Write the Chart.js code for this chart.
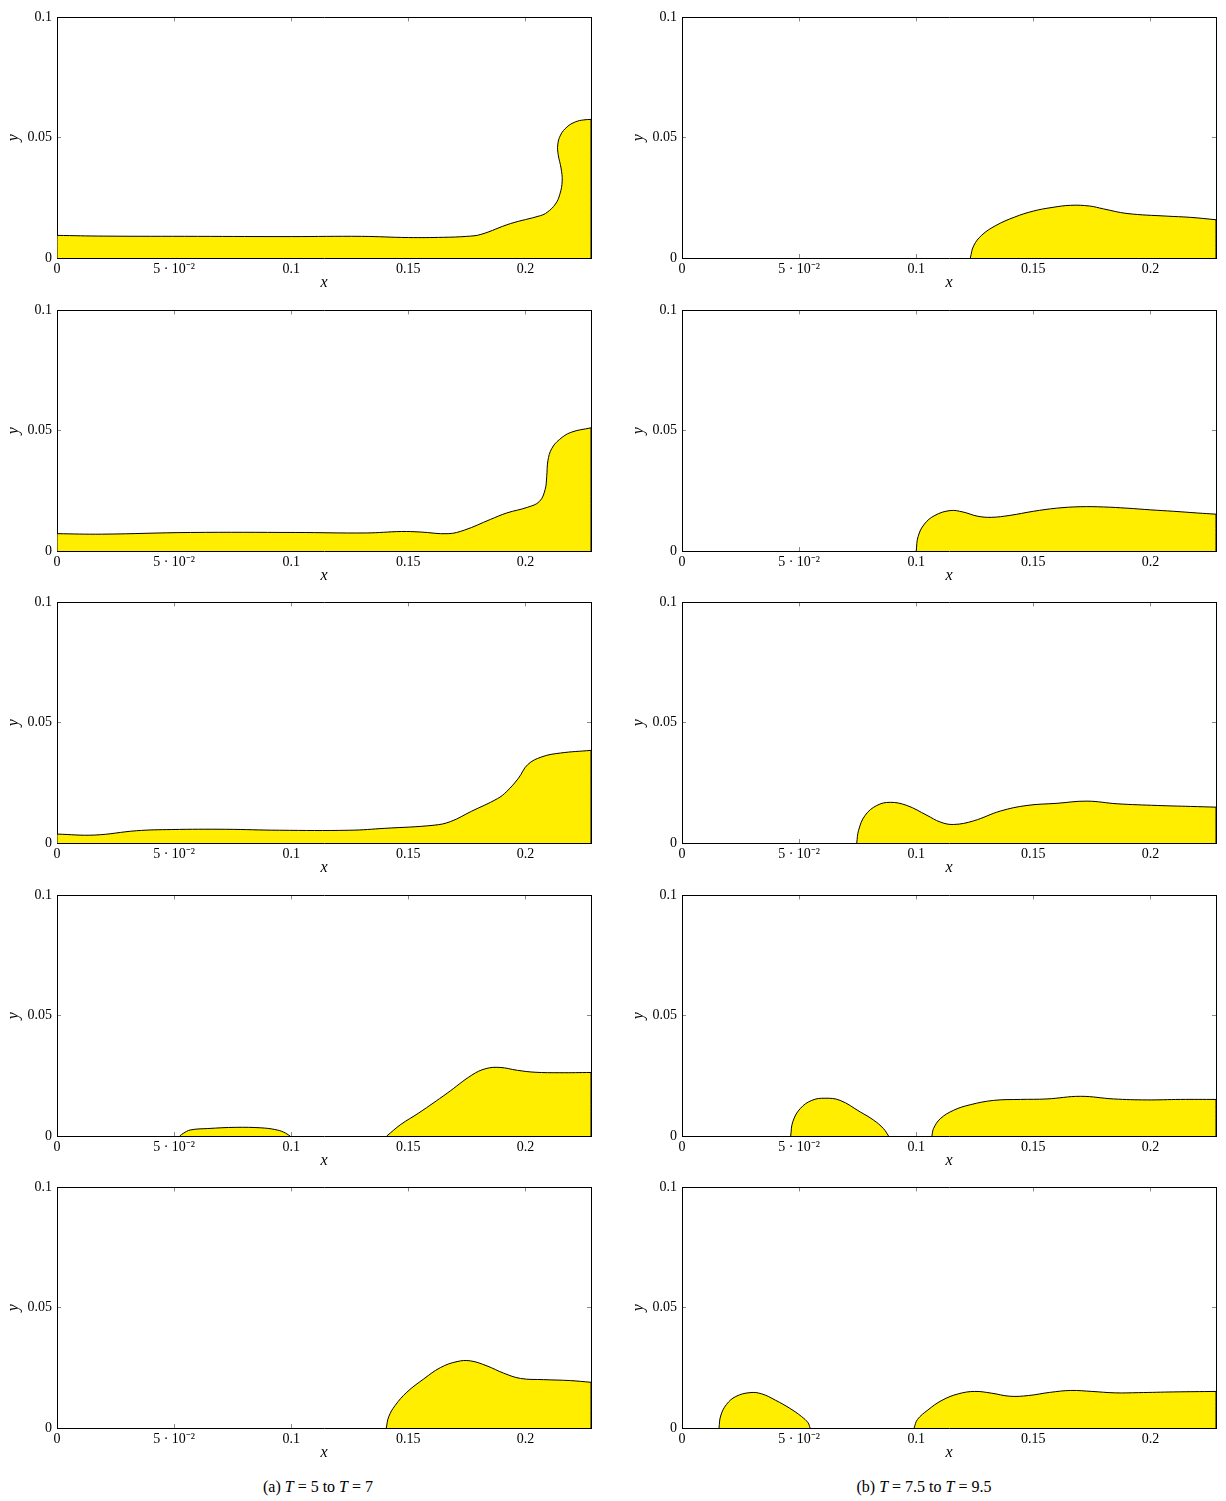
<!DOCTYPE html>
<html>
<head>
<meta charset="utf-8">
<script src="https://cdn.jsdelivr.net/npm/chart.js"></script>
<style>
    body { margin: 0; background: #fff; }
    #wrap { position: relative; width: 1226px; height: 1501px; font-family: 'Liberation Serif', serif; }
    canvas { position: absolute; }
    .cap { position: absolute; top: 1478px; font-size: 16px; color: #000; white-space: nowrap; transform: translateX(-50%); }
</style>
</head>
<body>
<div id="wrap">
    <div class="cap" style="left:318px">(a) <i>T</i> = 5 to <i>T</i> = 7</div>
    <div class="cap" style="left:924px">(b) <i>T</i> = 7.5 to <i>T</i> = 9.5</div>
</div>
<script>
const xTicks = [0, 0.05, 0.1, 0.15, 0.2];
const xTickLabels = ['0', '5 · 10⁻²', '0.1', '0.15', '0.2'];
const yTicks = [0, 0.05, 0.1];
const yTickLabels = ['0', '0.05', '0.1'];
const xMax = 0.228;
const yMax = 0.1;

// (a) T = 5 .. 7
const a1X = [0, 0, 0.02, 0.06, 0.10, 0.13, 0.15, 0.165, 0.175, 0.181, 0.1936, 0.2064, 0.2093, 0.2128, 0.2147, 0.2157, 0.2152, 0.214, 0.2138, 0.215, 0.2178, 0.2214, 0.2249, 0.228, 0.228];
const a1Y = [0, 0.0094, 0.0091, 0.009, 0.0089, 0.009, 0.0085, 0.0086, 0.009, 0.0098, 0.0143, 0.0176, 0.019, 0.0224, 0.0265, 0.032, 0.0374, 0.0429, 0.047, 0.0511, 0.0545, 0.0566, 0.0574, 0.0576, 0];

const a2X = [0, 0, 0.019, 0.057, 0.102, 0.132, 0.147, 0.155, 0.167, 0.174, 0.185, 0.192, 0.201, 0.206, 0.2084, 0.2091, 0.2096, 0.2112, 0.2145, 0.2194, 0.228, 0.228];
const a2Y = [0, 0.0072, 0.0070, 0.0077, 0.0077, 0.0075, 0.0081, 0.0079, 0.0072, 0.0087, 0.0131, 0.0158, 0.0182, 0.0206, 0.0255, 0.031, 0.0375, 0.0425, 0.0463, 0.0493, 0.0512, 0];

const a3X = [0, 0, 0.016, 0.034, 0.049, 0.072, 0.095, 0.125, 0.14, 0.161, 0.168, 0.177, 0.188, 0.192, 0.197, 0.201, 0.207, 0.215, 0.228, 0.228];
const a3Y = [0, 0.0037, 0.0033, 0.0051, 0.0056, 0.0057, 0.0053, 0.0053, 0.0061, 0.0074, 0.0089, 0.0132, 0.0184, 0.0214, 0.0269, 0.0326, 0.0358, 0.0374, 0.0385, 0];

const a4X1 = [0.0524, 0.0539, 0.0569, 0.0644, 0.0764, 0.087, 0.093, 0.0968, 0.0995];
const a4Y1 = [0, 0.0011, 0.0025, 0.0031, 0.0036, 0.0034, 0.0027, 0.0016, 0];
const a4X2 = [0.1408, 0.1468, 0.1545, 0.1666, 0.1771, 0.1831, 0.1891, 0.1966, 0.2041, 0.2147, 0.228, 0.228];
const a4Y2 = [0, 0.0048, 0.0096, 0.0178, 0.0253, 0.028, 0.0285, 0.0273, 0.0265, 0.0263, 0.0264, 0];

const a5X = [0.1406, 0.1416, 0.1444, 0.1494, 0.1566, 0.1637, 0.1708, 0.1765, 0.1836, 0.1907, 0.1979, 0.2078, 0.2192, 0.228, 0.228];
const a5Y = [0, 0.0046, 0.0094, 0.0149, 0.0204, 0.0251, 0.0276, 0.0279, 0.0258, 0.0228, 0.0206, 0.0201, 0.0197, 0.019, 0];

// (b) T = 7.5 .. 9.5
const b1X = [0.1231, 0.1245, 0.128, 0.134, 0.142, 0.15, 0.158, 0.166, 0.174, 0.18, 0.19, 0.207, 0.217, 0.228, 0.228];
const b1Y = [0, 0.005, 0.0095, 0.0135, 0.017, 0.0195, 0.021, 0.0219, 0.0216, 0.0204, 0.0185, 0.0174, 0.0169, 0.0159, 0];

const b2X = [0.1, 0.1008, 0.1035, 0.108, 0.1145, 0.12, 0.126, 0.132, 0.14, 0.15, 0.16, 0.17, 0.18, 0.19, 0.2, 0.21, 0.22, 0.228, 0.228];
const b2Y = [0, 0.006, 0.0112, 0.0148, 0.0168, 0.0162, 0.0145, 0.014, 0.0148, 0.0165, 0.0178, 0.0184, 0.0183, 0.0178, 0.0171, 0.0165, 0.0158, 0.0153, 0];

const b3X = [0.0746, 0.0754, 0.0782, 0.0832, 0.0889, 0.096, 0.1046, 0.1103, 0.116, 0.1245, 0.136, 0.1473, 0.1601, 0.1729, 0.1858, 0.2029, 0.2171, 0.228, 0.228];
const b3Y = [0, 0.0053, 0.0115, 0.0156, 0.0169, 0.0156, 0.0115, 0.0087, 0.0077, 0.0092, 0.0133, 0.0156, 0.0165, 0.0174, 0.0163, 0.0156, 0.0152, 0.0149, 0];

const b4X1 = [0.0464, 0.0473, 0.0504, 0.0554, 0.0611, 0.0675, 0.0761, 0.0818, 0.086, 0.0882];
const b4Y1 = [0, 0.0059, 0.0113, 0.0148, 0.0157, 0.0148, 0.01, 0.0066, 0.0031, 0];
const b4X2 = [0.1067, 0.1074, 0.1103, 0.116, 0.1231, 0.1331, 0.1445, 0.1558, 0.1701, 0.1843, 0.1986, 0.2128, 0.228, 0.228];
const b4Y2 = [0, 0.0031, 0.0072, 0.0107, 0.013, 0.0148, 0.0152, 0.0154, 0.0165, 0.0154, 0.015, 0.0152, 0.0152, 0];

const b5X1 = [0.0158, 0.0165, 0.019, 0.023, 0.029, 0.034, 0.04, 0.046, 0.051, 0.0538, 0.0547];
const b5Y1 = [0, 0.005, 0.0098, 0.0131, 0.0147, 0.0142, 0.0115, 0.0082, 0.0048, 0.0022, 0];
const b5X2 = [0.0991, 0.1005, 0.105, 0.111, 0.118, 0.125, 0.132, 0.14, 0.148, 0.157, 0.166, 0.175, 0.185, 0.195, 0.21, 0.228, 0.228];
const b5Y2 = [0, 0.0035, 0.0075, 0.0115, 0.0142, 0.0152, 0.0145, 0.0132, 0.0135, 0.0148, 0.0156, 0.0152, 0.0146, 0.0147, 0.015, 0.0152, 0];

const colLeft = [0, 625];
const rowTop = [0, 293, 585, 878, 1170];

const panels = [
    { col: 0, row: 0, blobs: [[a1X, a1Y]] },
    { col: 0, row: 1, blobs: [[a2X, a2Y]] },
    { col: 0, row: 2, blobs: [[a3X, a3Y]] },
    { col: 0, row: 3, blobs: [[a4X1, a4Y1], [a4X2, a4Y2]] },
    { col: 0, row: 4, blobs: [[a5X, a5Y]] },
    { col: 1, row: 0, blobs: [[b1X, b1Y]] },
    { col: 1, row: 1, blobs: [[b2X, b2Y]] },
    { col: 1, row: 2, blobs: [[b3X, b3Y]] },
    { col: 1, row: 3, blobs: [[b4X1, b4Y1], [b4X2, b4Y2]] },
    { col: 1, row: 4, blobs: [[b5X1, b5Y1], [b5X2, b5Y2]] }
];

const tickFont = { family: 'Liberation Serif', size: 14 };
const titleFont = { family: 'Liberation Serif', size: 16, style: 'italic' };

function setTicks(values) {
    return scale => { scale.ticks = values.map(v => ({ value: v })); };
}

// corner points on the plot edges are repeated so the spline keeps a sharp corner
function toPoints(xs, ys) {
    const pts = [];
    xs.forEach((x, i) => {
        pts.push({ x: x, y: ys[i] });
        const edge = ys[i] !== 0 && (xs[i - 1] === x || xs[i + 1] === x);
        if (edge) pts.push({ x: x, y: ys[i] });
    });
    return pts;
}

function makeAxis(pos, max, ticks, labels, showLabels) {
    const horiz = pos === 'top' || pos === 'bottom';
    return {
        type: 'linear',
        position: pos,
        min: 0,
        max: max,
        afterBuildTicks: setTicks(ticks),
        afterFit: scale => {
            if (horiz) scale.height = showLabels ? 34 : 0;
            else scale.width = showLabels ? 57 : 0;
        },
        border: { display: true, color: '#000', width: 1 },
        grid: { drawOnChartArea: false, drawTicks: true, tickLength: -4, color: '#8a8a8a', lineWidth: 1 },
        ticks: {
            display: showLabels,
            padding: 9,
            color: '#000',
            font: tickFont,
            callback: v => labels[ticks.indexOf(v)] ?? ''
        }
    };
}

const wrap = document.getElementById('wrap');

panels.forEach(p => {
    const canvas = document.createElement('canvas');
    canvas.width = 600;
    canvas.height = 292;
    canvas.style.left = colLeft[p.col] + 'px';
    canvas.style.top = rowTop[p.row] + 'px';
    wrap.appendChild(canvas);

    const datasets = p.blobs.map(([xs, ys]) => ({
        data: toPoints(xs, ys),
        showLine: true,
        fill: 'shape',
        backgroundColor: '#ffee00',
        borderColor: '#000',
        borderWidth: 1,
        pointRadius: 0,
        tension: 0.4
    }));

    const xAxis = makeAxis('bottom', xMax, xTicks, xTickLabels, true);
    xAxis.ticks.padding = 7;
    xAxis.title = { display: true, text: 'x', font: titleFont, color: '#000', padding: 0 };
    const yAxis = makeAxis('left', yMax, yTicks, yTickLabels, true);
    yAxis.title = { display: true, text: 'y', font: titleFont, color: '#000', padding: { top: 4, bottom: 0 } };

    new Chart(canvas.getContext('2d'), {
        type: 'scatter',
        data: { datasets: datasets },
        options: {
            responsive: false,
            animation: false,
            devicePixelRatio: 1,
            layout: { padding: { left: 0, right: 9, top: 14, bottom: 0 } },
            plugins: { legend: { display: false }, tooltip: { enabled: false } },
            scales: {
                x: xAxis,
                y: yAxis,
                x2: makeAxis('top', xMax, xTicks, xTickLabels, false),
                y2: makeAxis('right', yMax, yTicks, yTickLabels, false)
            }
        }
    });
});
</script>
</body>
</html>
